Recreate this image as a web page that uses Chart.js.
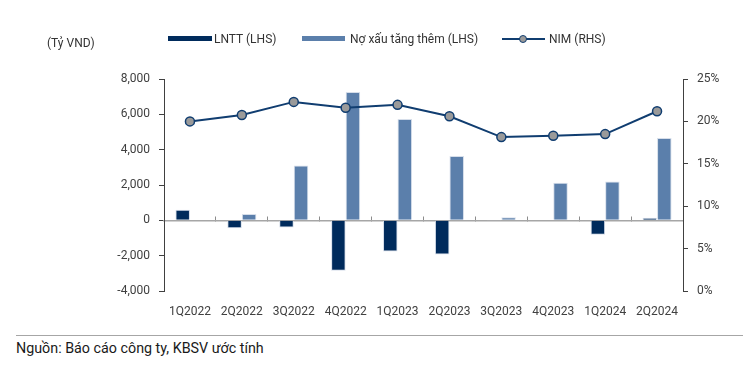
<!DOCTYPE html>
<html>
<head>
<meta charset="utf-8">
<script src="https://cdn.jsdelivr.net/npm/chart.js@4/dist/chart.umd.min.js"></script>
<style>
  body { margin: 0; width: 743px; height: 369px; background: #fff; position: relative; overflow: hidden; font-family: Roboto, sans-serif; }
  #chart { position: absolute; left: 0; top: 1px; }
  .lbl { position: absolute; font-size: 12px; color: #333; line-height: 14px; white-space: nowrap; }
  .box { position: absolute; height: 5px; }
  .nimline { position: absolute; left: 502px; top: 38px; width: 43px; height: 2px; background: #103d70; }
  .nimdot { position: absolute; left: 519px; top: 35px; width: 6px; height: 6px; border-radius: 50%; background: #9a9a9a; border: 1.5px solid #103d70; }
  .rule { position: absolute; left: 16px; right: 0; top: 335px; height: 1px; background: #a6a6a6; }
  .src { position: absolute; left: 16px; top: 339px; font-size: 14.3px; color: #1a1a1a; line-height: 18px; white-space: nowrap; }
</style>
</head>
<body>
<canvas id="chart" width="743" height="330"></canvas>
<div class="lbl" style="left:47px;top:36px">(Tỷ VND)</div>
<div class="box" style="left:168px;top:36px;width:44px;background:#002b5c"></div>
<div class="lbl" style="left:214px;top:32px">LNTT (LHS)</div>
<div class="box" style="left:302px;top:36px;width:43px;background:#5b7fab"></div>
<div class="lbl" style="left:350px;top:32px">Nợ xấu tăng thêm (LHS)</div>
<div class="nimline"></div>
<div class="nimdot"></div>
<div class="lbl" style="left:549px;top:32px">NIM (RHS)</div>
<div class="rule"></div>
<div class="src">Nguồn: Báo cáo công ty, KBSV ước tính</div>
<script>
const quarters = ['1Q2022', '2Q2022', '3Q2022', '4Q2022', '1Q2023', '2Q2023', '3Q2023', '4Q2023', '1Q2024', '2Q2024'];
const lntt = [600, -450, -400, -2860, -1770, -1940, -10, -20, -810, 150];
const noXauTangThem = [0, 360, 3100, 7260, 5740, 3640, 170, 2130, 2200, 4660];
const nim = [20.0, 20.75, 22.3, 21.6, 21.95, 20.6, 18.15, 18.3, 18.5, 21.2];
const leftTicks = [-4000, -2000, 0, 2000, 4000, 6000, 8000];
const rightTicks = [0, 5, 10, 15, 20, 25];

const axisColor = '#404040';
const tickFont = { family: 'Roboto', size: 12 };

new Chart(document.getElementById('chart'), {
  type: 'bar',
  data: {
    labels: quarters,
    datasets: [
      {
        type: 'line',
        label: 'NIM (RHS)',
        data: nim,
        yAxisID: 'y2',
        borderColor: '#103d70',
        borderWidth: 2,
        pointRadius: 4.5,
        pointBackgroundColor: '#9a9a9a',
        pointBorderColor: '#103d70',
        pointBorderWidth: 1.5,
        tension: 0,
        order: 0
      },
      {
        label: 'LNTT (LHS)',
        data: lntt,
        backgroundColor: '#002b5c',
        borderColor: '#d6deea',
        borderWidth: 1,
        yAxisID: 'y',
        order: 1
      },
      {
        label: 'Nợ xấu tăng thêm (LHS)',
        data: noXauTangThem,
        backgroundColor: '#5b7fab',
        borderColor: '#d6deea',
        borderWidth: 1,
        yAxisID: 'y',
        order: 1
      }
    ]
  },
  options: {
    responsive: false,
    animation: false,
    layout: { padding: { top: 78, left: 0, right: 0, bottom: 0 } },
    categoryPercentage: 0.56,
    barPercentage: 1,
    plugins: {
      legend: { display: false },
      tooltip: { enabled: false }
    },
    scales: {
      x: {
        position: 'bottom',
        grid: { display: false, drawTicks: false },
        border: { display: false },
        ticks: { color: axisColor, font: tickFont, padding: 14, maxRotation: 0 },
        afterFit: (s) => { s.height = 40; }
      },
      xZero: {
        type: 'category',
        labels: quarters,
        position: { y: 0 },
        offset: true,
        grid: { offset: true, drawOnChartArea: false, drawTicks: true, tickLength: -5, color: '#8c8c8c', lineWidth: 1 },
        border: { display: true, color: '#a6a6a6', width: 1.5 },
        ticks: { display: false }
      },
      y: {
        position: 'left',
        min: -4000,
        max: 8000,
        afterBuildTicks: (s) => { s.ticks = leftTicks.map(v => ({ value: v })); },
        grid: { drawOnChartArea: false, drawTicks: true, tickLength: 5, color: axisColor },
        border: { display: true, color: axisColor, width: 1 },
        ticks: {
          color: axisColor,
          font: tickFont,
          padding: 9,
          callback: (v) => v.toLocaleString('en-US')
        },
        afterFit: (s) => { s.width = 164; }
      },
      y2: {
        position: 'right',
        min: 0,
        max: 25,
        afterBuildTicks: (s) => { s.ticks = rightTicks.map(v => ({ value: v })); },
        grid: { drawOnChartArea: false, drawTicks: true, tickLength: 5, color: axisColor },
        border: { display: true, color: axisColor, width: 1 },
        ticks: {
          color: axisColor,
          font: tickFont,
          padding: 9,
          callback: (v) => v + '%'
        },
        afterFit: (s) => { s.width = 60; }
      }
    }
  }
});
</script>
</body>
</html>
